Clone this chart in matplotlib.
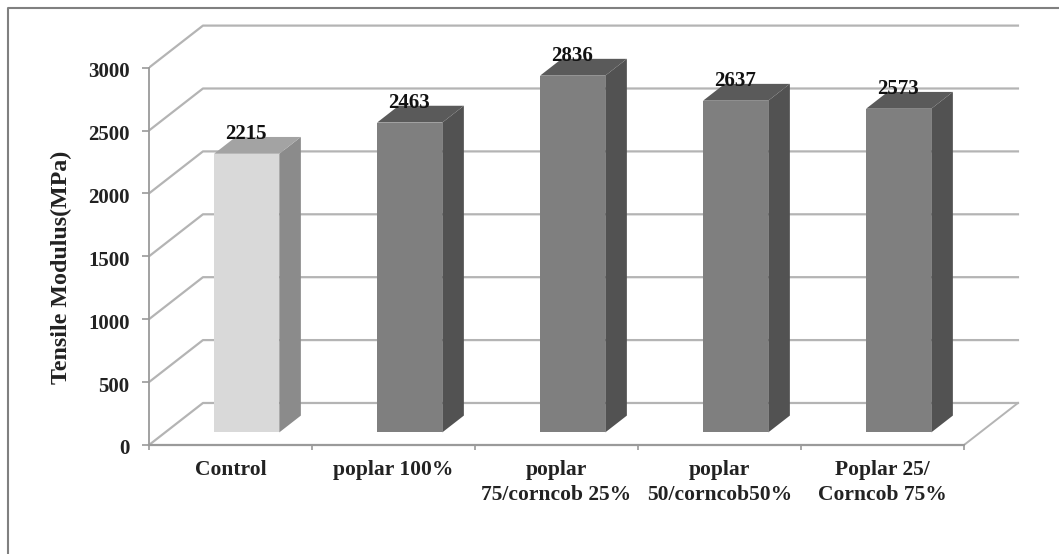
from matplotlib import pyplot as plt
from matplotlib.lines import Line2D
from matplotlib.transforms import ScaledTranslation
import numpy as np

categories = ['Control', 'poplar 100%', 'poplar\n75/corncob 25%', 'poplar\n50/corncob50%', 'Poplar 25/\nCorncob 75%']
values = [2215, 2463, 2836, 2637, 2573]
y_ticks = [0, 500, 1000, 1500, 2000, 2500, 3000]

plt.rcParams['font.family'] = ['Liberation Serif', 'DejaVu Serif']
plt.rcParams['font.weight'] = 'bold'

fig = plt.figure(figsize=(10.59, 5.54), dpi=100)
ax = fig.add_axes([149 / 1059, 109 / 554, 896.5 / 1059, 427.7 / 554])
ax.set_xlim(0, 5.5)
ax.set_ylim(0, 3400)

# fake 3d: depth just shifts a point right and up
depth_x = 0.331
depth_y = 334
grid_c = '#b4b4b4'
axis_c = '#9a9a9a'


def shift(x, y, d):
    return x + d * depth_x, y + d * depth_y


n = len(categories)
for t in y_ticks:
    x0, y0 = shift(0, t, 0)
    x1, y1 = shift(0, t, 1)
    x2, y2 = shift(n, t, 1)
    ax.plot([x0, x1, x2], [y0, y1, y2], color=grid_c, lw=1.6, zorder=1, solid_joinstyle='round')

# right edge of floor
x1, y1 = shift(n, 0, 1)
ax.plot([n, x1], [0, y1], color=grid_c, lw=1.4, zorder=1)

bar_w = 0.4
d0, d1 = 0.3, 0.7
for i, v in enumerate(values):
    left = i + 0.5 - bar_w / 2
    right = left + bar_w
    if i == 0:
        front_c, side_c, top_c = '#d9d9d9', '#8b8b8b', '#a3a3a3'
    else:
        front_c, side_c, top_c = '#7f7f7f', '#525252', '#5a5a5a'
    z = 3 + i

    corners = [shift(left, 0, d0), shift(right, 0, d0), shift(right, v, d0), shift(left, v, d0)]
    ax.fill(*zip(*corners), facecolor=front_c, edgecolor='none', zorder=z)
    corners = [shift(right, 0, d0), shift(right, 0, d1), shift(right, v, d1), shift(right, v, d0)]
    ax.fill(*zip(*corners), facecolor=side_c, edgecolor='none', zorder=z)
    corners = [shift(left, v, d0), shift(right, v, d0), shift(right, v, d1), shift(left, v, d1)]
    ax.fill(*zip(*corners), facecolor=top_c, edgecolor='none', zorder=z)

    tx, ty = shift(i + 0.5, v, d0)
    ax.annotate(str(v), (tx, ty), xytext=(-1, 20), textcoords='offset pixels', ha='center', va='center',
                fontsize=15, color='#111111', zorder=20, annotation_clip=False)

for s in ['top', 'right']:
    ax.spines[s].set_visible(False)
ax.spines['left'].set_bounds(0, 3000)
ax.spines['bottom'].set_bounds(0, n)
ax.spines['left'].set_color(axis_c)
ax.spines['bottom'].set_color(axis_c)
ax.spines['left'].set_linewidth(1.3)
ax.spines['bottom'].set_linewidth(1.6)

ax.set_yticks(y_ticks)
ax.set_yticklabels([str(t) for t in y_ticks], fontsize=15, color='#222222')
ax.tick_params(axis='y', length=5, width=1.2, color=axis_c, pad=9)
# tick labels sit a little under their ticks in the original
for lab in ax.get_yticklabels():
    lab.set_transform(lab.get_transform() + ScaledTranslation(0, -2 / 100, fig.dpi_scale_trans))

ax.set_xticks(np.arange(n + 1))
ax.set_xticklabels([''] * (n + 1))
ax.tick_params(axis='x', which='major', length=3.5, width=1.2, color=axis_c)
ax.set_xticks(np.arange(n) + 0.5, minor=True)
ax.set_xticklabels(categories, minor=True, fontsize=15.5, color='#222222', linespacing=1.3)
ax.tick_params(axis='x', which='minor', length=0, pad=11)

ax.set_ylabel('Tensile Modulus(MPa)', fontsize=17.3, fontweight='bold', color='#222222')
ax.yaxis.set_label_coords(-77 / 896.5, 178 / 427.7)
ax.patch.set_visible(False)

# outer frame of the picture
fig.add_artist(Line2D([8 / 1059, 8 / 1059, 1], [0, 1 - 8 / 554, 1 - 8 / 554], color='#808080', lw=1.5))

fig.savefig('out.png', dpi=100)
